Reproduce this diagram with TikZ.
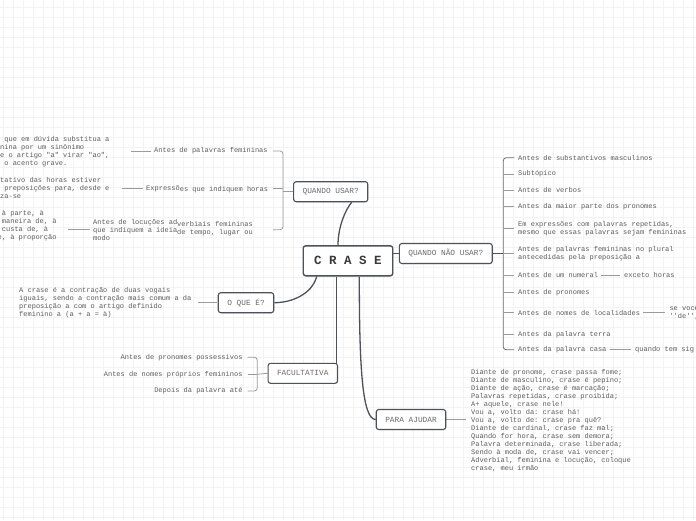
\documentclass[tikz,border=0pt]{standalone}
\usepackage{fontspec}
\setmonofont{Liberation Mono}
\usetikzlibrary{shadows,backgrounds}
\definecolor{boxgray}{HTML}{4D5259}
\definecolor{topicgray}{HTML}{6A6A6A}
\definecolor{crasegray}{HTML}{3A3A3A}
\definecolor{textgray}{HTML}{5C5C5C}
\definecolor{leafgray}{HTML}{9B9B9B}
\definecolor{gridgray}{HTML}{F3F3F3}
\begin{document}
\begin{tikzpicture}[x=1pt,y=-1pt,line cap=round,line join=round,
  topic/.style={draw=boxgray,line width=1.1pt,rounded corners=2.5pt,fill=white,
    inner xsep=9pt,inner ysep=0pt,minimum height=20pt,text=topicgray,
    font=\ttfamily\fontsize{7.8}{9}\selectfont,
    drop shadow={opacity=0.18,shadow xshift=0.6pt,shadow yshift=-0.9pt}},
  note/.style={inner sep=0pt,align=left,text=textgray,
    font=\ttfamily\fontsize{7}{8}\selectfont,
    execute at begin node={\spaceskip=4.2pt\xspaceskip=4.2pt\relax}},
  link/.style={draw=boxgray,line width=1.3pt},
  brk/.style={draw=leafgray,line width=0.8pt,rounded corners=3pt},
  leaf/.style={draw=leafgray,line width=0.8pt,shorten <=3pt,shorten >=4pt},
  gridline/.style={draw=gridgray,line width=0.5pt}]
  \useasboundingbox (0,0) rectangle (696,520);
  \clip (0,0) rectangle (696,520);
  \begin{scope}[on background layer]
    \foreach \i in {0,...,69}
      \draw[gridline] (3.3+10*\i,0) -- (3.3+10*\i,520);
    \foreach \j in {0,...,51}
      \draw[gridline] (0,7.3+10*\j) -- (696,7.3+10*\j);
  \end{scope}

  % central topic and main branches
  \node[topic,inner xsep=11pt,minimum height=30pt,line width=1.4pt,text=crasegray,
    font=\ttfamily\bfseries\fontsize{12.5}{14}\selectfont] (crase) at (348,260.8) {C R A S E};
  \node[topic] (quser) at (330.7,191.7) {QUANDO USAR?};
  \node[topic] (qnu) at (445.8,253.5) {QUANDO NÃO USAR?};
  \node[topic] (oque) at (246,302.7) {O QUE É?};
  \node[topic] (facul) at (302.8,373.3) {FACULTATIVA};
  \node[topic] (ajudar) at (411,419.5) {PARA AJUDAR};

  % quando usar?
  \node[note,anchor=west] (u1) at (154,151) {Antes de palavras femininas};
  \node[note,anchor=west] (u2) at (146,188.3)
    {Expressõ\smash{\raisebox{-1pt}{es que indiquem horas}}};
  \node[note,anchor=west] (u3) at (93,229.7)
    {Antes de locuções ad\rlap{\smash{\raisebox{-2.3pt}{verbiais femininas}}}\\
     que indiquem a ideia\rlap{\smash{\raisebox{-2pt}{de tempo, lugar ou}}}\\modo};
  \node[note,anchor=west,text width=127pt] (w1) at (0,151.5)
    {~que em dúvida substitua a\\nina por um sinônimo\\e o artigo "a" virar "ao",\\~o acento grave.};
  \node[note,anchor=west,text width=118pt] (w2) at (0,188)
    {tativo das horas estiver\\~preposições para, desde e\\za-se};
  \node[note,anchor=west,text width=66.5pt] (w3) at (-2.5,225.6)
    {~à parte, à\\~maneira de, à\\~custa de, à\\e, à proporção};
  \coordinate (ub) at (283,191.7);
  \coordinate (ubx) at (273,0);

  % o que e?
  \node[note,anchor=west,text width=175pt] (qdef) at (19,303)
    {A crase é a contração de duas vogais\\iguais, sendo a contração mais comum a da\\
     preposição a com o artigo definido\\feminino a (a + a = à)};

  % facultativa
  \node[note,anchor=east] (f1) at (242.7,357.3) {Antes de pronomes possessivos};
  \node[note,anchor=east] (f2) at (242.7,374.3) {Antes de nomes próprios femininos};
  \node[note,anchor=east] (f3) at (242.7,391) {Depois da palavra até};
  \coordinate (fb) at (257.3,374.3);
  \coordinate (fbx) at (247.7,0);

  % para ajudar
  \node[note,anchor=west] (dica) at (471,420.3)
    {Diante de pronome, crase passa fome;\\
     Diante de masculino, crase é pepino;\\
     Diante de ação, crase é marcação;\\
     Palavras repetidas, crase proibida;\\
     A+ aquele, crase nele!\\
     Vou a, volto da: crase há!\\
     Vou a, volto de: crase pra quê?\\
     Diante de cardinal, crase faz mal;\\
     Quando for hora, crase sem demora;\\
     Palavra determinada, crase liberada;\\
     Sendo à moda de, crase vai vencer;\\
     Adverbial, feminina e locução, coloque\\
     crase, meu irmão};

  % quando nao usar?
  \node[note,anchor=west] (n1) at (518,157.7) {Antes de substantivos masculinos};
  \node[note,anchor=west] (n2) at (518,174) {Subtópico};
  \node[note,anchor=west] (n3) at (518,190) {Antes de verbos};
  \node[note,anchor=west] (n4) at (518,206.7) {Antes da maior parte dos pronomes};
  \node[note,anchor=west] (n5) at (518,228.3)
    {Em expressões com palavras repetidas,\\mesmo que essas palavras sejam femininas};
  \node[note,anchor=west] (n6) at (518,253.5)
    {Antes de palavras femininas no plural\\antecedidas pela preposição a};
  \node[note,anchor=west] (n7) at (518,275) {Antes de um numeral};
  \node[note,anchor=west] (n8) at (518,292.3) {Antes de pronomes};
  \node[note,anchor=west] (n9) at (518,312.7) {Antes de nomes de localidades};
  \node[note,anchor=west] (n10) at (518,334.3) {Antes da palavra terra};
  \node[note,anchor=west] (n11) at (518,349.8) {Antes da palavra casa};
  \node[note,anchor=west] (g7) at (624,275) {exceto horas};
  \node[note,anchor=west] (g9) at (669.3,312.7) {se você\\''de'',};
  \node[note,anchor=west] (g11) at (635,349.8) {quando tem sig};
  \coordinate (nb) at (503.3,253.5);
  \coordinate (nbx) at (514,0);

  \begin{scope}[on background layer]
    \draw[link] ([xshift=-10pt]crase.north) .. controls (338,226) and (346,209) .. ([xshift=21pt]quser.south);
    \draw[link] (crase.east |- qnu.west) -- (qnu.west);
    \draw[link] ([xshift=-31.3pt]crase.south) .. controls (312,294) and (292,302.7) .. (oque.east);
    \draw[link] ([xshift=-11.3pt]crase.south) |- (facul.east);
    \draw[link] ([xshift=11.3pt]crase.south) .. controls (359.3,365) and (362,419.5) .. (ajudar.west);

    \draw[brk] (ubx |- u1.east) -| (ub) |- (ubx |- u3.east);
    \draw[brk] (ubx |- u2.east) -- (ub |- u2.east);
    \draw[brk] (ub) -- (quser.west);
    \draw[leaf] (u1.west) -- (u1.west -| w1.east);
    \draw[leaf] (u2.west) -- (u2.west -| w2.east);
    \draw[leaf] (u3.west) -- (u3.west -| w3.east);

    \draw[leaf,shorten <=0.5pt] (oque.west) -- (oque.west -| qdef.east);

    \draw[brk] (fbx |- f1.east) -| (fb) |- (fbx |- f3.east);
    \draw[brk] (fbx |- f2.east) -- (fb |- f2.east);
    \draw[brk] (fb) -- (facul.west);

    \draw[leaf,shorten <=0pt,shorten >=5pt] (ajudar.east) -- (ajudar.east -| dica.west);

    \draw[brk,draw=boxgray!85] (nbx |- n1.west) -| (nb) |- (nbx |- n11.west);
    \foreach \k in {2,...,10}
      \draw[brk] (nb |- n\k.west) -- (nbx |- n\k.west);
    \draw[link,line width=1pt] (qnu.east) -- (nb);
    \draw[leaf] (n7.east) -- (g7.west);
    \draw[leaf] (n9.east) -- (n9.east -| g9.west);
    \draw[leaf] (n11.east) -- (g11.west);
  \end{scope}
\end{tikzpicture}
\end{document}
